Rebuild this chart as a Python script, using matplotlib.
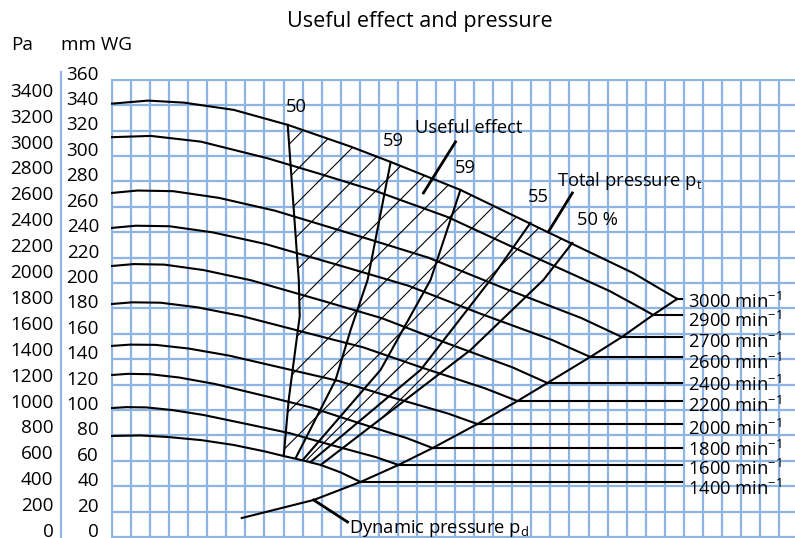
import numpy as np
import matplotlib
matplotlib.use("Agg")
import matplotlib.pyplot as plt
from matplotlib.patches import Polygon

plt.rcParams['font.family'] = ['Open Sans', 'DejaVu Sans']
plt.rcParams['mathtext.fontset'] = 'custom'
plt.rcParams['mathtext.rm'] = 'Open Sans'
plt.rcParams['mathtext.it'] = 'Open Sans:italic'
plt.rcParams['hatch.linewidth'] = 0.8

# x = volume flow in grid columns, y = pressure in mm WG
x3000 = [0, 1.89, 3.77, 6.39, 9.22, 12.52, 14.62, 18.28, 22.84, 27.36, 29.65]
y3000 = [337.2, 339.6, 338.0, 332.3, 320.5, 303.4, 291.3, 269.3, 236.2, 203.7, 183.5]
x2900 = [0, 2.04, 4.66, 8.16, 11.0, 13.91, 17.60, 21.86, 26.12, 28.39]
y2900 = [310.8, 311.8, 307.3, 294.2, 281.5, 268.0, 248.0, 218.5, 189.6, 170.9]
x2700 = [0, 1.34, 3.21, 5.62, 8.56, 13.11, 16.59, 20.60, 24.61, 26.75]
y2700 = [266.9, 268.8, 268.3, 263.0, 252.9, 232.2, 216.0, 191.7, 168.5, 153.5]
x2600 = [0, 1.25, 3.01, 5.27, 8.03, 12.29, 15.56, 19.32, 23.08, 25.09]
y2600 = [239.4, 241.1, 240.7, 235.9, 226.8, 208.3, 193.8, 171.9, 151.2, 137.8]
x2400 = [0, 1.14, 2.74, 4.80, 7.31, 11.19, 14.16, 17.59, 21.01, 22.84]
y2400 = [209.4, 210.9, 210.5, 206.2, 198.1, 181.4, 168.3, 148.5, 129.6, 117.3]
x2200 = [0, 1.06, 2.55, 4.47, 6.81, 10.42, 13.19, 16.38, 19.57, 21.27]
y2200 = [179.5, 180.8, 180.5, 176.9, 170.0, 156.0, 145.3, 128.8, 113.1, 103.1]
x2000 = [0, 0.96, 2.30, 4.03, 6.13, 9.39, 11.89, 14.76, 17.64, 19.17]
y2000 = [146.5, 147.5, 147.3, 144.4, 138.9, 127.6, 118.9, 105.7, 93.2, 85.0]
x1800 = [0, 0.84, 2.02, 3.53, 5.38, 8.24, 10.43, 12.95, 15.47, 16.82]
y1800 = [123.6, 124.5, 124.2, 121.6, 116.6, 106.3, 98.1, 85.8, 73.9, 66.1]
x1600 = [0, 0.75, 1.80, 3.16, 4.81, 7.36, 9.32, 11.57, 13.83, 15.03]
y1600 = [97.6, 98.3, 98.1, 96.0, 92.1, 84.1, 77.8, 68.2, 59.0, 52.8]
x1400 = [0, 1.5, 2.93, 4.7, 6.39, 8.0, 9.01, 10.0, 10.95, 12.0, 13.04]
y1400 = [75.6, 76.0, 74.8, 72.3, 68.5, 63.5, 59.8, 56.4, 52.8, 46.9, 39.4]

speed_curves = [
    (3000, x3000, y3000), (2900, x2900, y2900), (2700, x2700, y2700),
    (2600, x2600, y2600), (2400, x2400, y2400), (2200, x2200, y2200),
    (2000, x2000, y2000), (1800, x1800, y1800), (1600, x1600, y1600),
    (1400, x1400, y1400),
]

# dynamic pressure / end-of-curve line
dyn_x = [6.81, 10.58, 13.04, 15.03, 16.82, 19.17, 21.27, 22.84, 25.09, 26.75, 28.39, 29.65]
dyn_y = [11.0, 25.2, 39.4, 52.8, 66.1, 85.0, 103.1, 117.3, 137.8, 153.5, 170.9, 183.5]

# useful effect lines (top on 3000 curve, bottom on 1400 curve)
eff_labels = ['50', '59', '59', '55', '50 %']
eff1_x = [9.22, 9.80, 9.85, 9.27, 9.01]
eff1_y = [320.5, 198.4, 170.0, 103.9, 59.8]
eff2_x = [14.62, 13.41, 12.52, 11.73, 9.64]
eff2_y = [291.3, 198.4, 159.1, 119.7, 58.3]
eff3_x = [18.28, 16.71, 14.09, 10.01]
eff3_y = [269.3, 198.4, 127.6, 56.7]
eff4_x = [21.95, 19.85, 16.19, 10.42]
eff4_y = [243.3, 198.4, 127.6, 55.1]
eff5_x = [24.15, 22.63, 18.81, 10.95]
eff5_y = [227.6, 198.4, 143.3, 52.8]
eff_lines = [(eff1_x, eff1_y), (eff2_x, eff2_y), (eff3_x, eff3_y),
             (eff4_x, eff4_y), (eff5_x, eff5_y)]

pa_ticks = list(range(0, 3401, 200))
mm_ticks = list(range(0, 361, 20))

# layout
W, H = 795, 538
fig = plt.figure(figsize=(W / 100, H / 100), dpi=100)
ax = fig.add_axes([111 / W, 0, 1 - 111 / W, (H - 79) / H])
ax.set_xlim(-0.05, 35.83)
ax.set_ylim(-4.72, 356.6)
for s in ax.spines.values():
    s.set_visible(False)
ax.set_xticks(np.arange(0, 36, 1))
ax.set_yticks(np.arange(-4, 357, 20))
ax.tick_params(length=0, labelbottom=False, labelleft=False)
ax.grid(True, color='#8eb4e3', lw=1.6)
ax.set_axisbelow(True)

fs = 13.2
lc = 'black'
x_right = 29.91

for spd, xs, ys in speed_curves:
    ax.plot(xs, ys, color=lc, lw=1.5)
    ax.plot([xs[-1], x_right], [ys[-1], ys[-1]], color=lc, lw=1.5)

ax.plot(dyn_x, dyn_y, color=lc, lw=1.5)
for ex, ey in eff_lines:
    ax.plot(ex, ey, color=lc, lw=1.5)

# hatched useful-effect area
x14, y14 = np.array(x1400), np.array(y1400)
x30, y30 = np.array(x3000), np.array(y3000)
m14 = (x14 > eff1_x[-1]) & (x14 < eff5_x[-1])
m30 = (x30 > eff1_x[0]) & (x30 < eff5_x[0])
px = np.concatenate([eff1_x, x14[m14], eff5_x[::-1], x30[m30][::-1]])
py = np.concatenate([eff1_y, y14[m14], eff5_y[::-1], y30[m30][::-1]])
ax.add_patch(Polygon(np.column_stack([px, py]), closed=True, fill=False,
                     hatch='/', edgecolor=lc, lw=0))

# speed labels
label_y = [180.8, 166.1, 149.8, 133.3, 115.7, 99.2, 80.9, 64.6, 49.3, 33.9]
for (spd, xs, ys), ly in zip(speed_curves, label_y):
    ax.text(30.22, ly, '%d min$^{\\mathregular{-1}}$' % spd, fontsize=fs,
            ha='left', va='center')

# efficiency labels
eff_label_pos = [(9.69, 334.6), (14.77, 307.9), (18.54, 286.6), (22.37, 263.8), (25.46, 245.7)]
for lab, (lx, ly) in zip(eff_labels, eff_label_pos):
    ax.text(lx, ly, lab, fontsize=fs, ha='center', va='center')

# annotations
ax.plot([18.02, 16.34], [307.1, 266.9], color=lc, lw=2)
ax.text(15.92, 318.1, 'Useful effect', fontsize=fs, ha='left', va='center')
ax.plot([24.15, 22.89], [266.9, 236.2], color=lc, lw=2)
ax.text(23.36, 276.4, 'Total pressure p$_\\mathregular{t}$', fontsize=fs,
        ha='left', va='center')
ax.plot([10.58, 12.36], [25.2, 7.9], color=lc, lw=2, clip_on=False)
ax.text(12.45, 3.1, 'Dynamic pressure p$_\\mathregular{d}$', fontsize=fs,
        ha='left', va='center', clip_on=False)

# axis labels on the left
tr = ax.get_yaxis_transform()
for v in mm_ticks:
    ax.text(-0.0175, v, str(v), fontsize=13.6, ha='right', va='center', transform=tr)
for v in pa_ticks:
    ax.text(-0.084, v / 9.81, str(v), fontsize=13.6, ha='right', va='center', transform=tr)
ax.plot([-0.0731, -0.0731], [-4.72, 362], color='#8eb4e3', lw=1.5,
        transform=tr, clip_on=False)

fig.text(22 / W, 1 - 45 / H, 'Pa', fontsize=13.6, ha='center', va='center')
fig.text(61 / W, 1 - 45 / H, 'mm WG', fontsize=13.6, ha='left', va='center')
fig.text(420 / W, 1 - 22 / H, 'Useful effect and pressure', fontsize=15.5,
         ha='center', va='center')

fig.savefig('out.png', dpi=100)
